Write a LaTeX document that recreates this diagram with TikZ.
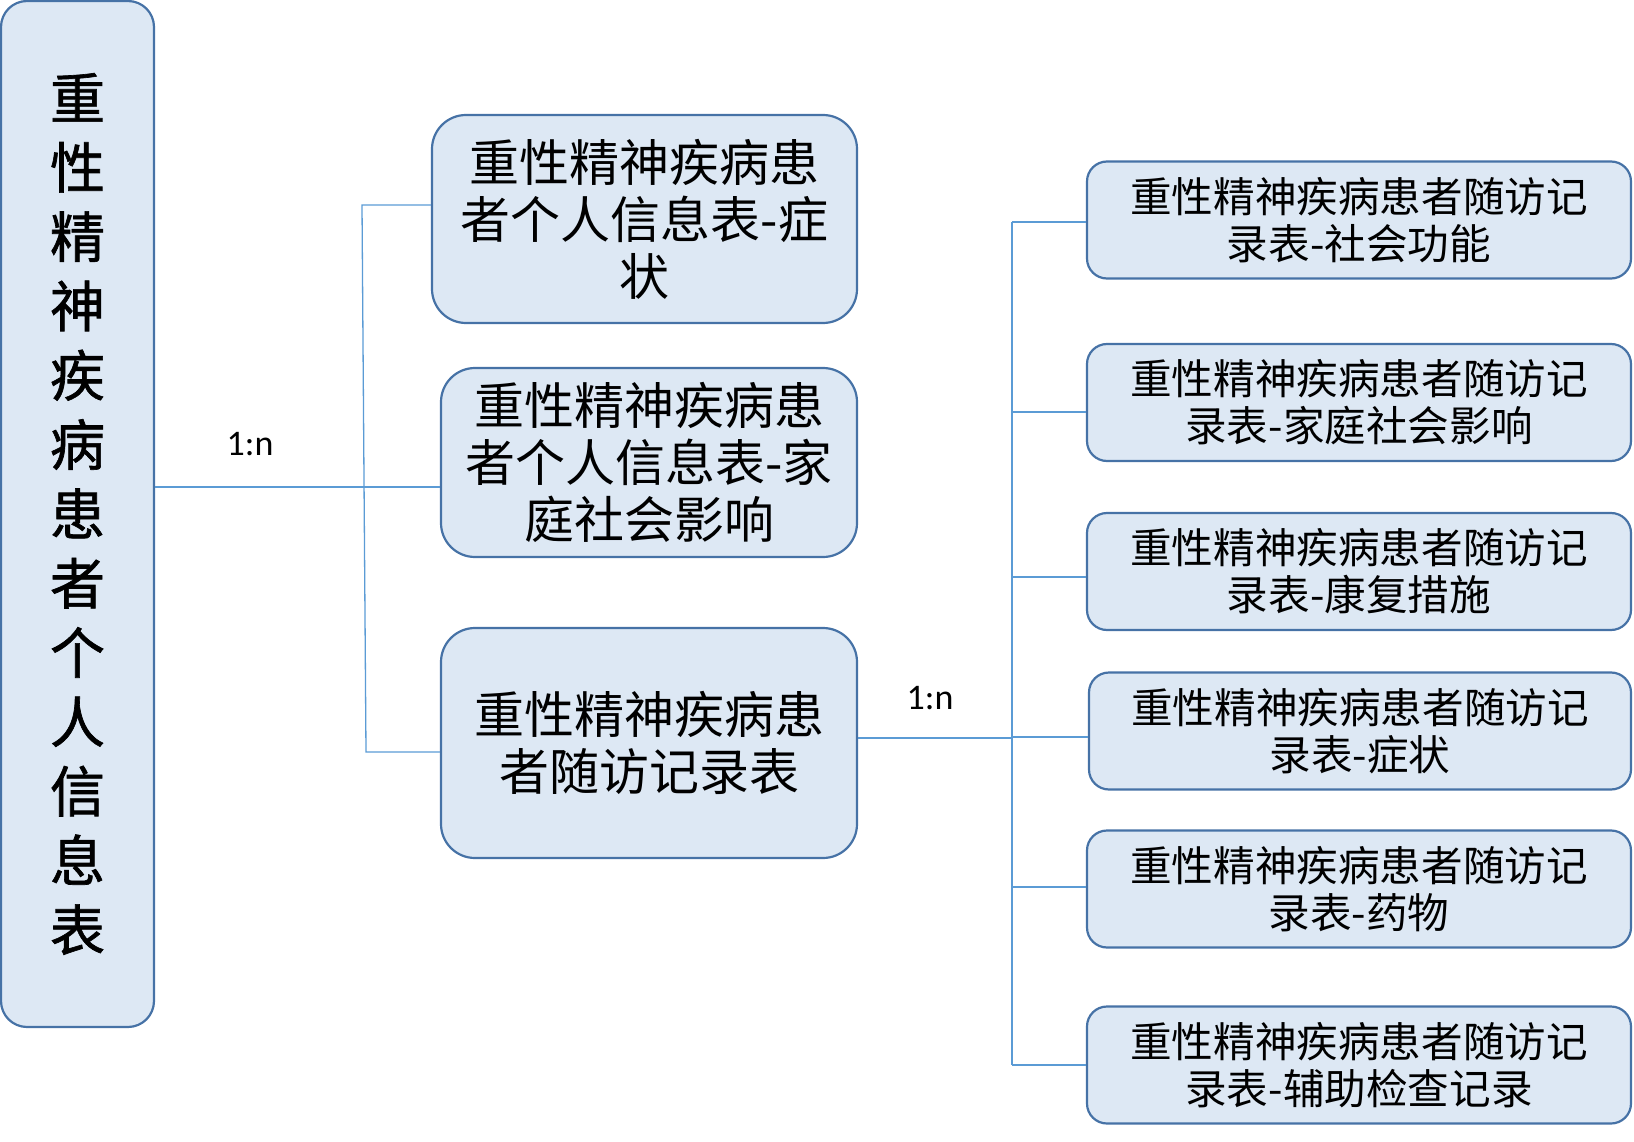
\documentclass[tikz,border=0pt]{standalone}
\usepackage{fontspec}
\setmainfont{Noto Sans CJK SC}
\newfontfamily\rootfont[FakeBold=1.2]{Noto Sans CJK SC}
\newfontfamily\latinfont{Carlito}
\definecolor{boxfill}{HTML}{DDE8F4}
\definecolor{boxline}{HTML}{4672A6}
\definecolor{linkblue}{HTML}{5B9BD5}
\begin{document}
\begin{tikzpicture}[x=1pt,y=-1pt,
  box/.style={draw=boxline, fill=boxfill, line width=2.2pt, align=center,
    inner sep=0pt, text=black},
  rootbox/.style={box, rounded corners=26pt, font=\rootfont\fontsize{55}{69.3}\selectfont},
  midbox/.style={box, rounded corners=34pt, font=\fontsize{50}{57}\selectfont},
  leafbox/.style={box, rounded corners=20pt, minimum width=544pt, minimum height=117pt,
    font=\fontsize{41.6}{47}\selectfont},
  link/.style={draw=linkblue, line width=1.3pt},
  ratio/.style={font=\latinfont\fontsize{36}{42}\selectfont, inner sep=0pt, text=black}]
\useasboundingbox (0,0) rectangle (1634,1142);

% root table
\node[rootbox, minimum width=153pt, minimum height=1026pt] (L) at (77.5,514)
  {重\\性\\精\\神\\疾\\病\\患\\者\\个\\人\\信\\息\\表};

% second level
\node[midbox, minimum width=425pt, minimum height=208pt] (M1) at (644.5,219)
  {重性精神疾病患\\者个人信息表-症\\状};
\node[midbox, minimum width=416pt, minimum height=189pt] (M2) at (649,462.5)
  {重性精神疾病患\\者个人信息表-家\\庭社会影响};
\node[midbox, minimum width=416pt, minimum height=230pt] (M3) at (649,743)
  {重性精神疾病患\\者随访记录表};

% third level
\node[leafbox] (R1) at (1359,220)   {重性精神疾病患者随访记\\录表-社会功能};
\node[leafbox] (R2) at (1359,402.5) {重性精神疾病患者随访记\\录表-家庭社会影响};
\node[leafbox] (R3) at (1359,571.5) {重性精神疾病患者随访记\\录表-康复措施};
\node[leafbox, minimum width=542pt] (R4) at (1360,731) {重性精神疾病患者随访记\\录表-症状};
\node[leafbox] (R5) at (1359,889)   {重性精神疾病患者随访记\\录表-药物};
\node[leafbox] (R6) at (1359,1065)  {重性精神疾病患者随访记\\录表-辅助检查记录};

% cardinality labels
\node[ratio] (n1) at (250,444) {1:n};
\node[ratio] (n2) at (930,698) {1:n};

% left tree
\coordinate (lj) at (363,487);
\coordinate (lt) at (362,205);
\coordinate (lb) at (366,752);
\draw[link] (L.east |- lj) -- (lj) -- (M2.west |- lj);
\draw[link] (M1.west |- lt) -- (lt) -- (lb) -- (M3.west |- lb);

% right tree
\coordinate (rj) at (1012,738);
\coordinate (r1) at (1012,222);
\coordinate (r2) at (1012,412);
\coordinate (r3) at (1012,577);
\coordinate (r4) at (1012,737);
\coordinate (r5) at (1012,887);
\coordinate (r6) at (1012,1065);
\draw[link] (M3.east |- rj) -- (rj);
\draw[link] (r1) -- (r6);
\draw[link] (r1) -- (R1.west |- r1);
\draw[link] (r2) -- (R2.west |- r2);
\draw[link] (r3) -- (R3.west |- r3);
\draw[link] (r4) -- (R4.west |- r4);
\draw[link] (r5) -- (R5.west |- r5);
\draw[link] (r6) -- (R6.west |- r6);
\end{tikzpicture}
\end{document}
